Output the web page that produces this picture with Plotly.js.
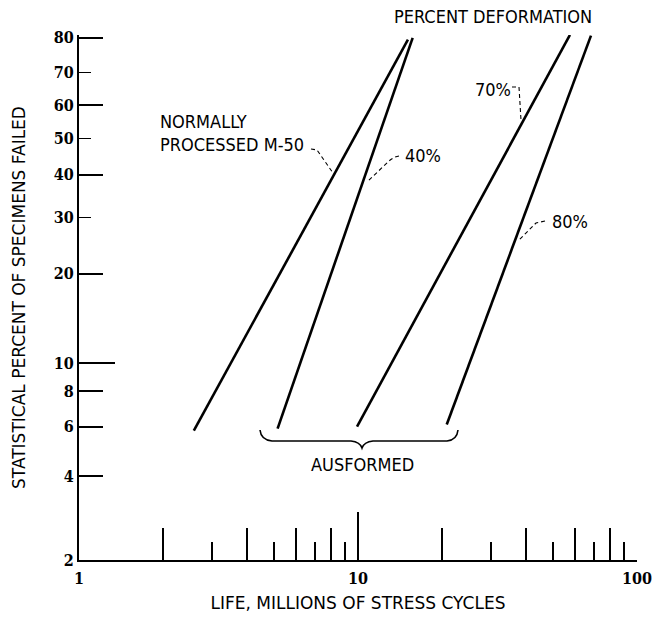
<!DOCTYPE html>
<html><head><meta charset="utf-8">
<script src="https://cdn.plot.ly/plotly-3.0.1.min.js"></script>
<style>html,body{margin:0;padding:0;background:#fff}#chart{width:654px;height:619px}</style>
</head><body><div id="chart"></div>
<script>
// ---- data (life in millions of stress cycles, statistical percent failed) ----
const normalLife = [2.58, 15.1];
const normalPct  = [5.8, 79.5];
const def40Life  = [5.15, 15.7];
const def40Pct   = [5.9, 80.0];
const def70Life  = [9.92, 57.5];
const def70Pct   = [6.0, 80.8];
const def80Life  = [20.8, 68.4];
const def80Pct   = [6.1, 80.6];

const yTickVals   = [2, 4, 6, 8, 10, 20, 30, 40, 50, 60, 70, 80];
const yTickLong   = [4, 6, 8, 20, 40, 60, 80];
const yTickShort  = [30, 50, 70];
const yTickTen    = [10];
const xTickVals   = [1, 10, 100];
const xTickText   = ['1', '10', '100'];
const xTickMid    = [2, 4, 6, 8, 20, 40, 60, 80];
const xTickSmall  = [3, 5, 7, 9, 30, 50, 70, 90];

// Weibull probability scale
const W = p => Math.log(-Math.log(1 - p / 100));

// ---- geometry helpers (pixel -> paper) ----
const L = 79, R = 17, T = 35, B = 59, WIDTH = 654, HEIGHT = 619;
const PW = WIDTH - L - R, PH = HEIGHT - T - B;
const px = x => (x - L) / PW;
const py = y => (HEIGHT - B - y) / PH;
const pathPx = s => s.replace(/(-?[\d.]+),(-?[\d.]+)/g, (m, a, b) => px(+a).toFixed(5) + ',' + py(+b).toFixed(5));

const lineStyle = {color: '#000', width: 2.6};
const mk = (xs, ps, name) => ({
  x: xs, y: ps.map(W), mode: 'lines', type: 'scatter', name: name,
  line: lineStyle, showlegend: false, hoverinfo: 'skip'
});

const traces = [
  mk(normalLife, normalPct, 'Normally processed M-50'),
  mk(def40Life, def40Pct, '40%'),
  mk(def70Life, def70Pct, '70%'),
  mk(def80Life, def80Pct, '80%'),
  {x: [], y: [], xaxis: 'x2', yaxis: 'y', type: 'scatter', showlegend: false},
  {x: [], y: [], xaxis: 'x', yaxis: 'y2', type: 'scatter', showlegend: false},
  {x: [], y: [], xaxis: 'x', yaxis: 'y3', type: 'scatter', showlegend: false}
];

const yRange = [W(2), 0.50];
const tickFont = {family: '"DejaVu Serif Condensed", "DejaVu Serif", serif', size: 16, color: '#000', weight: 'bold'};
const titleFont = {family: '"DejaVu Sans", sans-serif', size: 17, color: '#000'};
const textFont = {family: '"DejaVu Sans Condensed", "DejaVu Sans", sans-serif', size: 18, color: '#000'};

const baseY = {range: yRange, showgrid: false, zeroline: false, fixedrange: true};

const layout = {
  width: WIDTH, height: HEIGHT,
  margin: {l: L, r: R, t: T, b: B, pad: 0},
  paper_bgcolor: '#fff', plot_bgcolor: '#fff',
  showlegend: false,
  xaxis: {
    type: 'log', range: [0, 2], anchor: 'y',
    tickmode: 'array', tickvals: xTickVals, ticktext: xTickText,
    ticks: 'inside', ticklen: 48, tickwidth: 2, tickcolor: '#000', ticklabelstandoff: 3,
    minor: {tickvals: xTickMid, ticks: 'inside', ticklen: 32, tickwidth: 2, tickcolor: '#000', showgrid: false},
    showline: true, linewidth: 2, linecolor: '#000',
    showgrid: false, zeroline: false, tickfont: tickFont, fixedrange: true, automargin: false,
    title: {text: 'LIFE, MILLIONS OF STRESS CYCLES', font: titleFont, standoff: 10}
  },
  xaxis2: {
    type: 'log', range: [0, 2], overlaying: 'x', anchor: 'y', side: 'bottom',
    tickmode: 'array', tickvals: xTickSmall,
    ticks: 'inside', ticklen: 18, tickwidth: 1.6, tickcolor: '#000',
    showticklabels: false, showline: false, showgrid: false, zeroline: false, fixedrange: true
  },
  yaxis: Object.assign({}, baseY, {
    anchor: 'x',
    tickmode: 'array', tickvals: yTickVals.map(W), ticktext: yTickVals.map(String),
    ticks: '', showline: true, linewidth: 2, linecolor: '#000',
    tickfont: tickFont, automargin: false,
    title: {text: 'STATISTICAL PERCENT OF SPECIMENS FAILED', font: titleFont, standoff: 24}
  }),
  yaxis2: Object.assign({}, baseY, {
    overlaying: 'y', anchor: 'x', side: 'left',
    tickmode: 'array', tickvals: yTickLong.map(W),
    ticks: 'inside', ticklen: 24, tickwidth: 2, tickcolor: '#000',
    minor: {tickvals: yTickShort.map(W), ticks: 'inside', ticklen: 12, tickwidth: 1.6, tickcolor: '#000', showgrid: false},
    showticklabels: false, showline: false
  }),
  yaxis3: Object.assign({}, baseY, {
    overlaying: 'y', anchor: 'x', side: 'left',
    tickmode: 'array', tickvals: yTickTen.map(W),
    ticks: 'inside', ticklen: 36, tickwidth: 2, tickcolor: '#000',
    showticklabels: false, showline: false
  }),
  annotations: [
    {text: 'PERCENT DEFORMATION', x: px(392), y: py(16), xanchor: 'left', yanchor: 'middle'},
    {text: 'NORMALLY<br>PROCESSED M-50', x: px(158), y: py(133), xanchor: 'left', yanchor: 'middle', align: 'left'},
    {text: '40%', x: px(403), y: py(155), xanchor: 'left', yanchor: 'middle'},
    {text: '70%', x: px(473), y: py(90), xanchor: 'left', yanchor: 'middle'},
    {text: '80%', x: px(550), y: py(221), xanchor: 'left', yanchor: 'middle'},
    {text: 'AUSFORMED', x: px(362), y: py(464), xanchor: 'center', yanchor: 'middle'}
  ].map(a => Object.assign({xref: 'paper', yref: 'paper', showarrow: false, font: textFont}, a)),
  shapes: [
    {path: 'M311,149 L317,150 L333,173', dash: 'dash'},
    {path: 'M399,156 Q393,157 388,162 L368,181', dash: 'dash'},
    {path: 'M512,87 L519,87 L521,120', dash: 'dash'},
    {path: 'M545,221 L536,223 L518,241', dash: 'dash'},
    {path: 'M260,430 Q261,440 272,441 L351,441 Q360,442 362,448 Q364,442 373,441 L447,441 Q457,440 458,430', dash: 'solid', w: 1.6}
  ].map(s => ({type: 'path', xref: 'paper', yref: 'paper', path: pathPx(s.path),
               line: {color: '#000', width: s.w || 1.1, dash: s.dash === 'dash' ? '4px,3px' : 'solid'}}))
};

Plotly.newPlot('chart', traces, layout, {displayModeBar: false, staticPlot: true});
</script>
</body></html>
